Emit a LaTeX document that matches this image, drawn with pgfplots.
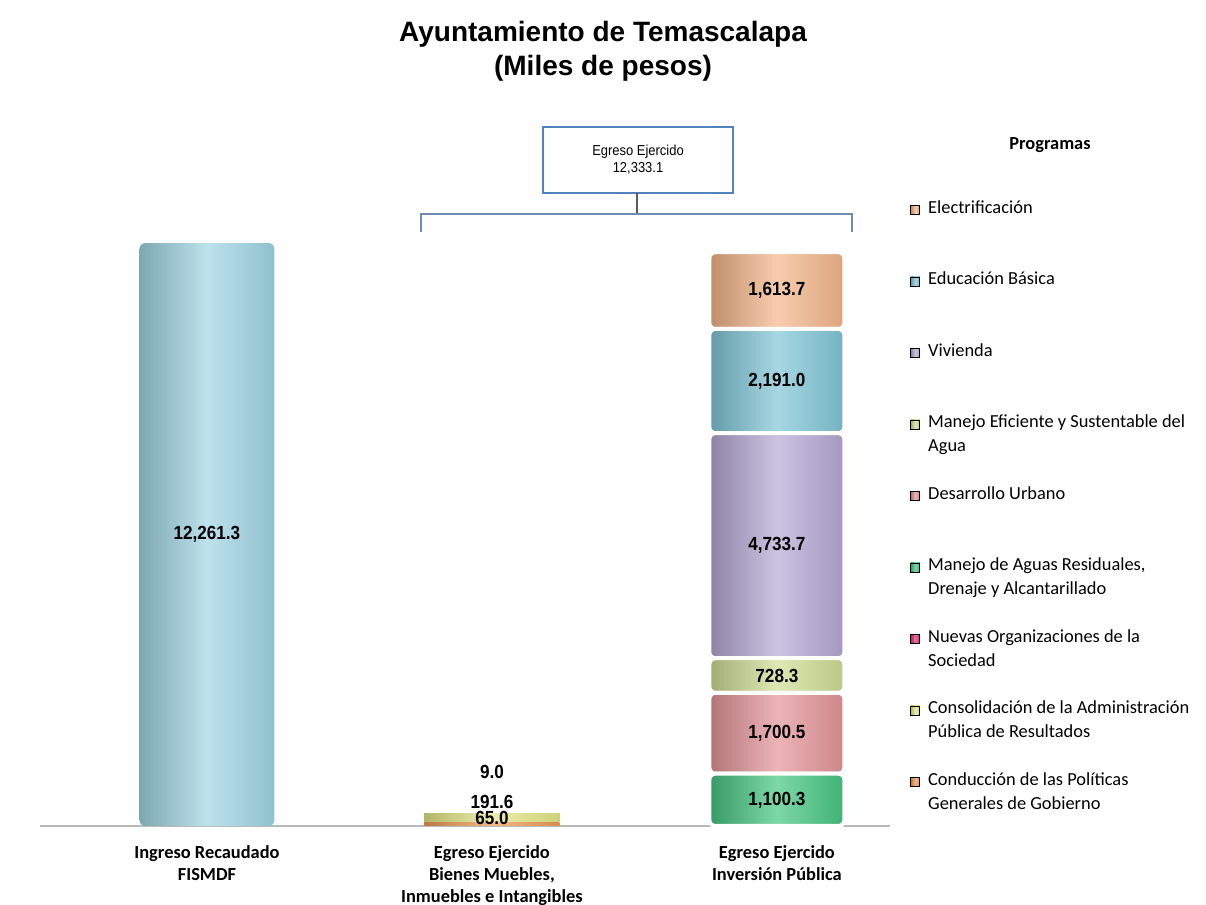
\documentclass[border=0pt]{standalone}
\usepackage{pgfplots}
\pgfplotsset{compat=1.18}
\usepackage{fontspec}
\setmainfont{Carlito}
\newfontfamily\arialfont{Liberation Sans}
\newfontfamily\narrowfont{Liberation Sans}[FakeStretch=0.9]

% colores de las barras
\definecolor{cIngreso}{RGB}{160,214,228}
\definecolor{cConduccion}{RGB}{240,155,85}
\definecolor{cConsolidacion}{RGB}{228,232,135}
\definecolor{cNuevas}{RGB}{228,50,118}
\definecolor{cAguas}{RGB}{70,198,130}
\definecolor{cDesarrollo}{RGB}{228,148,152}
\definecolor{cManejo}{RGB}{208,222,148}
\definecolor{cVivienda}{RGB}{182,168,212}
\definecolor{cEducacion}{RGB}{128,198,215}
\definecolor{cElectrif}{RGB}{244,182,138}
\definecolor{boxblue}{RGB}{80,130,190}
\definecolor{brk}{RGB}{110,140,180}

\tikzset{
  cyl/.style={left color=#1!78!black, right color=#1!90!black, middle color=#1!70!white},
  seg/.style={cyl=#1, draw=white, line width=2pt, rounded corners=3pt},
  vl/.style={font=\narrowfont\bfseries\fontsize{9.5}{10}\selectfont, inner sep=0pt},
}
\pgfplotsset{
  li/.style={legend image code/.code={\path[cyl=#1] (0pt,-0.5pt) rectangle (4.5pt,4pt);}},
  frame/.style={scale only axis, width=425pt, height=363pt, at={(20pt,39.5pt)}, anchor=south west,
    xmin=-0.586, xmax=2.397, ymin=0, ymax=15269, ybar stacked, bar width=67.5pt, clip=false},
}

\begin{document}
\begin{tikzpicture}
\useasboundingbox (0,0) rectangle (603pt,452.5pt);

% barra 1: ingreso
\begin{axis}[frame,
  axis x line=bottom, axis y line=none,
  x axis line style={-, draw=gray!55, line width=0.9pt},
  xtick={0,1,2}, xtick style={draw=none}, ytick=\empty,
  xticklabels={{Ingreso Recaudado\\FISMDF},{Egreso Ejercido\\Bienes Muebles,\\Inmuebles e Intangibles},{Egreso Ejercido\\Inversión Pública}},
  xticklabel style={align=center, font=\bfseries\fontsize{9.2}{11}\selectfont, yshift=-4pt}]
\addplot[cyl=cIngreso, draw=none, rounded corners=3pt] coordinates {(0,12261.3)};
\end{axis}

% barra 2: bienes muebles
\begin{axis}[frame, hide axis]
\addplot[cyl=cConduccion, draw=none] coordinates {(1,65.0)};
\addplot[cyl=cConsolidacion, draw=none] coordinates {(1,191.6)};
\addplot[cyl=cNuevas, draw=none] coordinates {(1,9.0)};
\end{axis}

% barra 3: inversion publica
\begin{axis}[frame, hide axis,
  legend style={at={(1.0235,0.8636)}, anchor=north west, draw=none, fill=none,
    inner sep=0pt, row sep=0pt, column sep=4pt,
    font=\fontsize{9.2}{12}\selectfont,
    nodes={inner sep=0pt, text height=7pt, text depth=28.75pt},
    cells={anchor=base west}}]
\addplot[seg=cAguas, forget plot] coordinates {(2,1100.3)};
\addplot[seg=cDesarrollo, forget plot] coordinates {(2,1700.5)};
\addplot[seg=cManejo, forget plot] coordinates {(2,728.3)};
\addplot[seg=cVivienda, forget plot] coordinates {(2,4733.7)};
\addplot[seg=cEducacion, forget plot] coordinates {(2,2191.0)};
\addplot[seg=cElectrif, forget plot] coordinates {(2,1613.7)};
\addlegendimage{li=cElectrif}
\addlegendentry{Electrificación}
\addlegendimage{li=cEducacion}
\addlegendentry{Educación Básica}
\addlegendimage{li=cVivienda}
\addlegendentry{Vivienda}
\addlegendimage{li=cManejo}
\addlegendentry{\parbox[t]{145pt}{\raggedright Manejo Eficiente y Sustentable del\\Agua}}
\addlegendimage{li=cDesarrollo}
\addlegendentry{Desarrollo Urbano}
\addlegendimage{li=cAguas}
\addlegendentry{\parbox[t]{145pt}{\raggedright Manejo de Aguas Residuales,\\Drenaje y Alcantarillado}}
\addlegendimage{li=cNuevas}
\addlegendentry{\parbox[t]{145pt}{\raggedright Nuevas Organizaciones de la\\Sociedad}}
\addlegendimage{li=cConsolidacion}
\addlegendentry{\parbox[t]{145pt}{\raggedright Consolidación de la Administración\\Pública de Resultados}}
\addlegendimage{li=cConduccion}
\addlegendentry{\parbox[t]{145pt}{\raggedright Conducción de las Políticas\\Generales de Gobierno}}
\end{axis}

% etiquetas de valores, encima de todas las barras
\begin{axis}[frame, hide axis]
\node[vl] at (axis cs:0,6130.65) {12,261.3};
\node[vl] at (axis cs:1,168) {65.0};
\node[vl] at (axis cs:1,505) {191.6};
\node[vl] at (axis cs:1,1136) {9.0};
\node[vl] at (axis cs:2,550.15) {1,100.3};
\node[vl] at (axis cs:2,1950.55) {1,700.5};
\node[vl] at (axis cs:2,3164.95) {728.3};
\node[vl] at (axis cs:2,5895.95) {4,733.7};
\node[vl] at (axis cs:2,9358.3) {2,191.0};
\node[vl] at (axis cs:2,11260.65) {1,613.7};
\end{axis}

% titulo
\node[font=\arialfont\bfseries\fontsize{14}{17}\selectfont, align=center, anchor=north, inner sep=0pt]
  at (301.5pt,442pt) {Ayuntamiento de Temascalapa\\(Miles de pesos)};

% recuadro del egreso total
\draw[boxblue, line width=1pt] (271.5pt,356pt) rectangle (366.5pt,389pt);
\node[align=center, font=\narrowfont\fontsize{7.2}{8.5}\selectfont, inner sep=0pt] at (319pt,372.5pt) {Egreso Ejercido\\12,333.1};
\draw[gray!70!black, line width=0.7pt] (318.5pt,356pt) -- (318.5pt,345.5pt);
\draw[brk, line width=0.8pt] (210.5pt,336.5pt) -- (210.5pt,345.5pt) -- (426pt,345.5pt) -- (426pt,336.5pt);

\node[font=\bfseries\fontsize{9.2}{10}\selectfont] at (525pt,380pt) {Programas};
\end{tikzpicture}
\end{document}
